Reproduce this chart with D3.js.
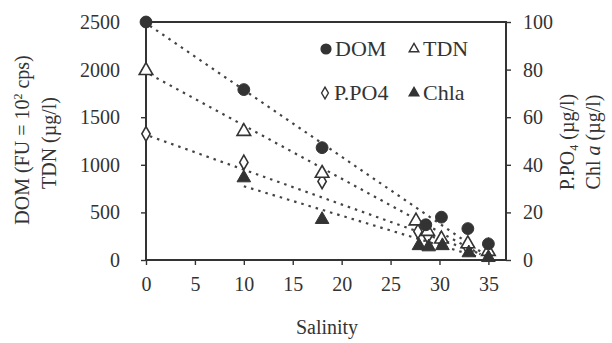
<!DOCTYPE html>
<meta charset="utf-8">
<head>
  <title>Salinity mixing</title>
</head>

<style>
body {
  margin: 0;
  background: #fff;
  color: #333;
}
.axis path, .axis line { stroke: #333; stroke-width: 1.4; }
.axis text { fill: #333; }
.lbl { fill: #333; }
</style>

<body>
  <svg width="612" height="343"></svg>

  <script src="https://cdnjs.cloudflare.com/ajax/libs/d3/7.8.5/d3.min.js"></script>
  <script>

  // salinity of each station
  var domSal  = [0, 10, 18, 28.6, 30.2, 32.9, 35];
  var domVal  = [2500, 1790, 1180, 370, 450, 330, 170];

  var tdnSal  = [0, 10, 18, 27.6, 28.8, 30.2, 32.9, 35];
  var tdnVal  = [1990, 1350, 910, 410, 300, 220, 170, 90];

  // right axis (µg/l)
  var ppoSal  = [0, 10, 18, 27.8, 28.8, 30.2, 32.9, 35];
  var ppoVal  = [53, 41, 33, 12, 10, 8, 5, 6];

  var chlSal  = [10, 18, 27.9, 28.9, 30.3, 33, 35];
  var chlVal  = [34.5, 17, 6, 5.5, 6, 3, 1];

  // dilution lines: [salinity, value] endpoints
  var domLine = [[0.4, 2460], [34.6, 60]];
  var tdnLine = [[0.4, 1950], [34.2, 60]];
  var ppoLine = [[0.4, 52], [34.6, 2]];
  var chlLine = [[10, 31], [34.2, 1]];

  var xTicks = [0, 5, 10, 15, 20, 25, 30, 35];
  var yLeftTicks = [0, 500, 1000, 1500, 2000, 2500];
  var yRightTicks = [0, 20, 40, 60, 80, 100];

  var FONT = 'Liberation Serif';
  var svg = d3.select('svg').attr('font-family', FONT);
  var x = d3.scaleLinear().domain([0, 36.8]).range([146, 506]);
  var yL = d3.scaleLinear().domain([0, 2500]).range([260, 22]);
  var yR = d3.scaleLinear().domain([0, 100]).range([260, 22]);

  // frame
  svg.append('path')
    .attr('d', 'M' + x(0) + ',' + yL(2500) + 'H' + x(36.8) + 'V' + yL(0) + 'H' + x(0) + 'Z')
    .attr('fill', 'none').attr('stroke', '#333').attr('stroke-width', 2);

  var xa = svg.append('g').attr('class', 'axis').attr('transform', 'translate(0,' + yL(0) + ')')
    .call(d3.axisBottom(x).tickValues(xTicks).tickFormat(d3.format('d')).tickSize(5).tickPadding(12));
  var la = svg.append('g').attr('class', 'axis').attr('transform', 'translate(' + x(0) + ',0)')
    .call(d3.axisLeft(yL).tickValues(yLeftTicks).tickFormat(d3.format('d')).tickSize(5).tickPadding(21));
  var ra = svg.append('g').attr('class', 'axis').attr('transform', 'translate(' + x(36.8) + ',0)')
    .call(d3.axisRight(yR).tickValues(yRightTicks).tickFormat(d3.format('d')).tickSize(5).tickPadding(12));
  [xa, la, ra].forEach(function(a) {
    a.attr('font-family', FONT).attr('font-size', 20);
    a.select('.domain').remove();
  });

  // dotted dilution lines
  var dash = function(pts, ys) {
    svg.append('path')
      .attr('d', d3.line().x(function(d) { return x(d[0]); }).y(function(d) { return ys(d[1]); })(pts))
      .attr('fill', 'none').attr('stroke', '#444').attr('stroke-width', 2.2)
      .attr('stroke-dasharray', '2.5,5');
  };
  dash(domLine, yL);
  dash(tdnLine, yL);
  dash(ppoLine, yR);
  dash(chlLine, yR);

  var sym = {
    circle: d3.symbol().type(d3.symbolCircle).size(110),
    tri: d3.symbol().type(d3.symbolTriangle).size(80),
    dia: d3.symbol().type(d3.symbolDiamond).size(60)
  };

  function marks(xs, vs, ys, shape, filled) {
    svg.append('g').selectAll('path').data(xs).join('path')
      .attr('transform', function(d, i) { return 'translate(' + x(d) + ',' + ys(vs[i]) + ')'; })
      .attr('d', sym[shape]())
      .attr('fill', filled ? '#333' : '#fff')
      .attr('stroke', '#333').attr('stroke-width', filled ? 1 : 1.6);
  }
  marks(ppoSal, ppoVal, yR, 'dia', false);
  marks(tdnSal, tdnVal, yL, 'tri', false);
  marks(chlSal, chlVal, yR, 'tri', true);
  marks(domSal, domVal, yL, 'circle', true);

  // legend
  var legend = [
    {t: 'DOM', s: 'circle', f: true, x: 326, y: 48},
    {t: 'TDN', s: 'tri', f: false, x: 414, y: 48},
    {t: 'P.PO4', s: 'dia', f: false, x: 325, y: 92},
    {t: 'Chla', s: 'tri', f: true, x: 414, y: 92}
  ];
  legend.forEach(function(l) {
    var sz = l.s === 'circle' ? 75 : 40;
    svg.append('path')
      .attr('transform', 'translate(' + l.x + ',' + (l.y + 1) + ')')
      .attr('d', d3.symbol().type(l.s === 'circle' ? d3.symbolCircle : l.s === 'tri' ? d3.symbolTriangle : d3.symbolDiamond).size(sz)())
      .attr('fill', l.f ? '#333' : '#fff').attr('stroke', '#333').attr('stroke-width', 1.4);
    svg.append('text').attr('class', 'lbl').attr('x', l.x + 9).attr('y', l.y + 8)
      .attr('font-size', 22).text(l.t);
  });

  // axis titles
  svg.append('text').attr('class', 'lbl').attr('x', 327).attr('y', 334)
    .attr('font-size', 20).attr('text-anchor', 'middle').text('Salinity');

  var t1 = svg.append('text').attr('class', 'lbl').attr('text-anchor', 'middle').attr('font-size', 20)
    .attr('transform', 'translate(29,140) rotate(-90)');
  t1.append('tspan').text('DOM (FU = 10');
  t1.append('tspan').attr('dy', -7).attr('font-size', 12).text('2');
  t1.append('tspan').attr('dy', 7).text(' cps)');
  svg.append('text').attr('class', 'lbl').attr('text-anchor', 'middle').attr('font-size', 20)
    .attr('transform', 'translate(56,143) rotate(-90)').text('TDN (µg/l)');

  var t2 = svg.append('text').attr('class', 'lbl').attr('text-anchor', 'middle').attr('font-size', 20)
    .attr('transform', 'translate(574,142) rotate(-90)');
  t2.append('tspan').text('P.PO');
  t2.append('tspan').attr('dy', 4).attr('font-size', 12).text('4');
  t2.append('tspan').attr('dy', -4).text(' (µg/l)');
  var t3 = svg.append('text').attr('class', 'lbl').attr('text-anchor', 'middle').attr('font-size', 20)
    .attr('transform', 'translate(600,142) rotate(-90)');
  t3.append('tspan').text('Chl ');
  t3.append('tspan').attr('font-style', 'italic').text('a');
  t3.append('tspan').text(' (µg/l)');

  </script>
</body>
</html>
